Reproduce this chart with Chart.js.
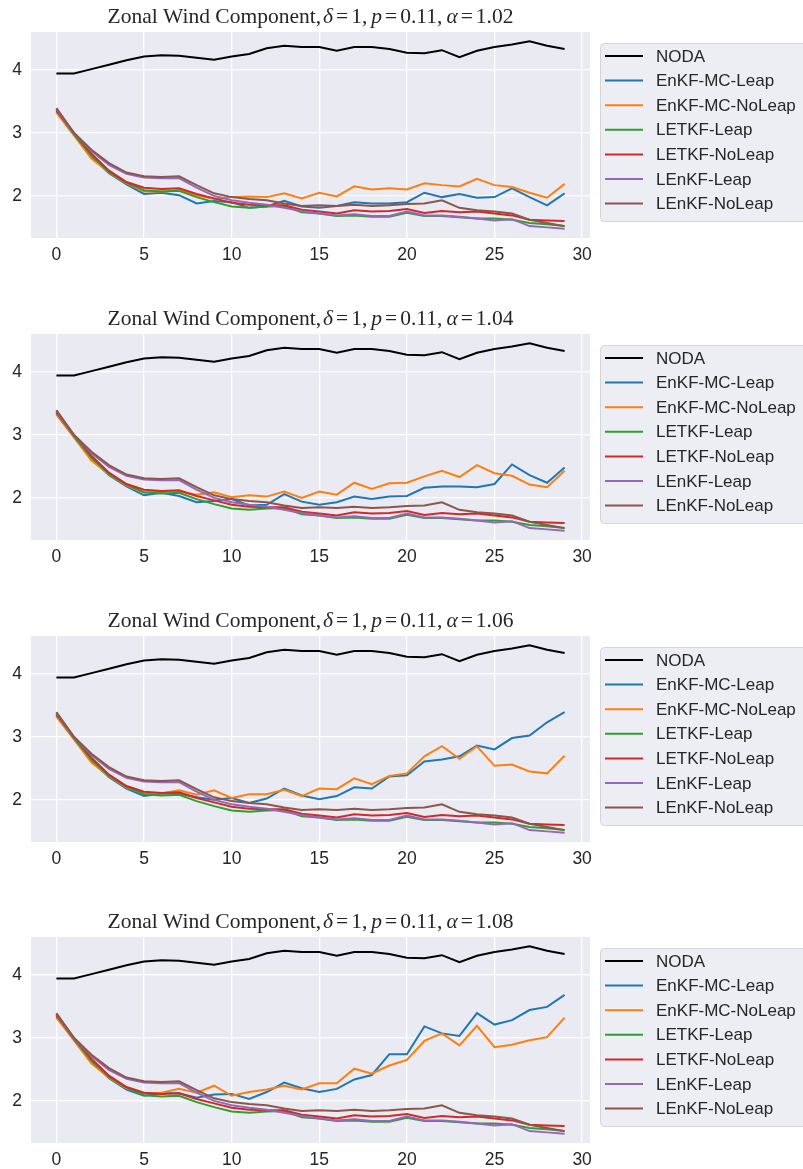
<!DOCTYPE html>
<html>
<head>
<meta charset="utf-8">
<script src="https://cdn.jsdelivr.net/npm/chart.js@4.4.0/dist/chart.umd.min.js"></script>
<style>
  html, body { margin: 0; padding: 0; background: #fff; }
  body { width: 803px; height: 1169px; overflow: hidden; position: relative; }
  .panel { position: absolute; left: 0; width: 803px; height: 302px; }
</style>
</head>
<body>
<div class="panel" style="top:0px"><canvas id="c0" width="803" height="302"></canvas></div>
<div class="panel" style="top:302px"><canvas id="c1" width="803" height="302"></canvas></div>
<div class="panel" style="top:604px"><canvas id="c2" width="803" height="302"></canvas></div>
<div class="panel" style="top:905px"><canvas id="c3" width="803" height="302"></canvas></div>
<script>
// assimilation cycles on the x axis
const steps = [0, 1, 2, 3, 4, 5, 6, 7, 8, 9, 10, 11, 12, 13, 14, 15, 16, 17, 18, 19, 20, 21, 22, 23, 24, 25, 26, 27, 28, 29];
const xTicks = [0, 5, 10, 15, 20, 25, 30];
const yTicks = [2, 3, 4];
const alphas = ['1.02', '1.04', '1.06', '1.08'];

const seriesNames = ['NODA', 'EnKF-MC-Leap', 'EnKF-MC-NoLeap', 'LETKF-Leap', 'LETKF-NoLeap', 'LEnKF-Leap', 'LEnKF-NoLeap'];
const seriesColors = ['#000000', '#1f77b4', '#ff7f0e', '#2ca02c', '#d62728', '#9467bd', '#8c564b'];

// RMSE curves that do not depend on alpha
const noda = [3.94, 3.94, 4.01, 4.08, 4.15, 4.21, 4.23, 4.22, 4.19, 4.16, 4.21, 4.25, 4.34, 4.38, 4.36, 4.36, 4.30, 4.36, 4.36, 4.33, 4.27, 4.26, 4.31, 4.20, 4.30, 4.36, 4.40, 4.45, 4.38, 4.33];
const letkfLeap = [3.36, 2.98, 2.64, 2.38, 2.21, 2.09, 2.07, 2.08, 1.98, 1.90, 1.83, 1.81, 1.83, 1.84, 1.74, 1.72, 1.68, 1.69, 1.67, 1.67, 1.73, 1.68, 1.68, 1.66, 1.64, 1.64, 1.62, 1.57, 1.55, 1.52];
const letkfNoLeap = [3.36, 3.00, 2.67, 2.40, 2.22, 2.13, 2.11, 2.12, 2.03, 1.96, 1.89, 1.86, 1.85, 1.85, 1.78, 1.75, 1.72, 1.77, 1.75, 1.76, 1.79, 1.73, 1.76, 1.74, 1.75, 1.72, 1.69, 1.62, 1.61, 1.60];
const lenkfLeap = [3.38, 2.99, 2.71, 2.49, 2.35, 2.29, 2.28, 2.28, 2.13, 2.00, 1.93, 1.89, 1.86, 1.81, 1.76, 1.72, 1.69, 1.71, 1.68, 1.68, 1.75, 1.69, 1.69, 1.67, 1.64, 1.61, 1.63, 1.52, 1.50, 1.48];
const lenkfNoLeap = [3.39, 3.00, 2.73, 2.52, 2.37, 2.31, 2.30, 2.31, 2.17, 2.04, 1.98, 1.95, 1.93, 1.88, 1.84, 1.85, 1.84, 1.86, 1.84, 1.85, 1.87, 1.88, 1.93, 1.81, 1.77, 1.75, 1.72, 1.62, 1.57, 1.52];

// EnKF-MC curves, one per inflation factor
const enkfLeap102 = [3.34, 2.98, 2.62, 2.36, 2.18, 2.03, 2.05, 2.01, 1.88, 1.92, 1.90, 1.81, 1.83, 1.92, 1.83, 1.81, 1.84, 1.90, 1.88, 1.88, 1.90, 2.05, 1.98, 2.03, 1.97, 1.98, 2.12, 1.98, 1.85, 2.04];
const enkfNoLeap102 = [3.32, 2.96, 2.59, 2.37, 2.20, 2.07, 2.07, 2.09, 2.01, 1.95, 1.98, 1.99, 1.98, 2.04, 1.96, 2.05, 1.99, 2.15, 2.10, 2.12, 2.10, 2.20, 2.17, 2.15, 2.27, 2.17, 2.14, 2.05, 1.97, 2.19];
const enkfLeap104 = [3.34, 2.98, 2.62, 2.36, 2.18, 2.04, 2.08, 2.03, 1.93, 1.95, 1.98, 1.88, 1.89, 2.06, 1.94, 1.89, 1.93, 2.02, 1.98, 2.02, 2.03, 2.16, 2.18, 2.18, 2.17, 2.22, 2.53, 2.36, 2.24, 2.48];
const enkfNoLeap104 = [3.32, 2.96, 2.59, 2.37, 2.20, 2.08, 2.10, 2.10, 2.05, 2.09, 2.01, 2.04, 2.02, 2.10, 2.00, 2.10, 2.05, 2.24, 2.14, 2.23, 2.24, 2.34, 2.43, 2.33, 2.52, 2.39, 2.35, 2.21, 2.17, 2.43];
const enkfLeap106 = [3.34, 2.98, 2.62, 2.36, 2.18, 2.06, 2.10, 2.10, 2.04, 2.00, 2.03, 1.95, 2.02, 2.18, 2.07, 2.01, 2.06, 2.20, 2.18, 2.37, 2.39, 2.61, 2.64, 2.69, 2.86, 2.80, 2.98, 3.02, 3.23, 3.39];
const enkfNoLeap106 = [3.32, 2.96, 2.59, 2.37, 2.20, 2.10, 2.10, 2.15, 2.08, 2.15, 2.03, 2.09, 2.09, 2.16, 2.06, 2.18, 2.17, 2.34, 2.25, 2.38, 2.42, 2.69, 2.85, 2.65, 2.85, 2.54, 2.56, 2.45, 2.42, 2.70];
const enkfLeap108 = [3.34, 2.98, 2.62, 2.36, 2.18, 2.08, 2.12, 2.12, 2.05, 2.10, 2.11, 2.03, 2.14, 2.29, 2.20, 2.14, 2.19, 2.34, 2.41, 2.74, 2.74, 3.18, 3.07, 3.03, 3.39, 3.21, 3.28, 3.44, 3.49, 3.68];
const enkfNoLeap108 = [3.32, 2.96, 2.59, 2.37, 2.20, 2.12, 2.13, 2.19, 2.13, 2.24, 2.08, 2.14, 2.18, 2.24, 2.18, 2.28, 2.28, 2.51, 2.43, 2.56, 2.65, 2.95, 3.07, 2.88, 3.19, 2.85, 2.89, 2.96, 3.01, 3.32];

const enkfLeapByPanel = [enkfLeap102, enkfLeap104, enkfLeap106, enkfLeap108];
const enkfNoLeapByPanel = [enkfNoLeap102, enkfNoLeap104, enkfNoLeap106, enkfNoLeap108];

const AXES_BG = '#EAEAF2';
const TEXT = '#262626';
const SANS = "'Liberation Sans', Arial, sans-serif";
const SERIF = "'Liberation Serif', 'Times New Roman', serif";

// axes face colour behind the grid
const facePlugin = {
  id: 'face',
  beforeDraw(chart) {
    const { ctx, chartArea: a } = chart;
    ctx.save();
    ctx.fillStyle = AXES_BG;
    ctx.fillRect(a.left, a.top, a.right - a.left, a.bottom - a.top);
    ctx.restore();
  }
};

// title with italic math symbols
const titlePlugin = {
  id: 'mathTitle',
  afterDraw(chart, args, opts) {
    const { ctx, chartArea: a } = chart;
    const parts = [
      ['Zonal Wind Component,', false, 2],
      ['δ', true, 3], ['=', false, 3], ['1,', false, 4],
      ['p', true, 3], ['=', false, 3], ['0.11,', false, 4],
      ['α', true, 3], ['=', false, 3], [opts.alpha, false, 0]
    ];
    const size = 21.5;
    const fontFor = it => (it ? 'italic ' : '') + size + 'px ' + SERIF;
    ctx.save();
    let total = 0;
    parts.forEach(p => { ctx.font = fontFor(p[1]); total += ctx.measureText(p[0]).width + p[2]; });
    let x = (a.left + a.right) / 2 - total / 2;
    ctx.fillStyle = TEXT;
    ctx.textBaseline = 'alphabetic';
    ctx.textAlign = 'left';
    parts.forEach(p => {
      ctx.font = fontFor(p[1]);
      ctx.fillText(p[0], x, 23);
      x += ctx.measureText(p[0]).width + p[2];
    });
    ctx.restore();
  }
};

// framed legend to the right of the axes
const legendPlugin = {
  id: 'sideLegend',
  afterDraw(chart) {
    const { ctx } = chart;
    const x0 = 600, y0 = 43, w = 230, h = 178, r = 4;
    ctx.save();
    ctx.beginPath();
    ctx.roundRect(x0 + 0.5, y0 + 0.5, w, h, r);
    ctx.fillStyle = '#EDEDF4';
    ctx.fill();
    ctx.strokeStyle = '#D4D4DA';
    ctx.lineWidth = 1;
    ctx.stroke();
    ctx.font = '17px ' + SANS;
    ctx.textBaseline = 'middle';
    chart.data.datasets.forEach((ds, i) => {
      const y = 56 + i * 24.6;
      ctx.beginPath();
      ctx.moveTo(605, y);
      ctx.lineTo(643, y);
      ctx.strokeStyle = ds.borderColor;
      ctx.lineWidth = 2;
      ctx.stroke();
      ctx.fillStyle = TEXT;
      ctx.fillText(ds.label, 656, y + 1);
    });
    ctx.restore();
  }
};

function makePanel(k) {
  const curves = [noda, enkfLeapByPanel[k], enkfNoLeapByPanel[k], letkfLeap, letkfNoLeap, lenkfLeap, lenkfNoLeap];
  const all = curves.flat();
  const yMin = Math.min(...all), yMax = Math.max(...all);
  const yPad = 0.05 * (yMax - yMin);
  const xPad = 0.05 * (steps[steps.length - 1] - steps[0]);

  const datasets = curves.map((vals, i) => ({
    label: seriesNames[i],
    data: vals.map((v, j) => ({ x: steps[j], y: v })),
    borderColor: seriesColors[i],
    borderWidth: 2,
    pointRadius: 0,
    tension: 0,
    fill: false,
    order: curves.length - i
  }));

  const tickFont = { family: SANS, size: 17.5 };

  new Chart(document.getElementById('c' + k), {
    type: 'line',
    data: { datasets },
    options: {
      responsive: false,
      animation: false,
      events: [],
      layout: { padding: { top: 32, bottom: 34, left: 0, right: 213 } },
      plugins: {
        legend: { display: false },
        tooltip: { enabled: false },
        mathTitle: { alpha: alphas[k] }
      },
      scales: {
        x: {
          type: 'linear',
          min: steps[0] - xPad,
          max: steps[steps.length - 1] + xPad,
          afterBuildTicks: s => { s.ticks = xTicks.map(v => ({ value: v })); },
          afterFit: s => { s.height = 30; },
          grid: { color: '#ffffff', lineWidth: 1.3, drawTicks: false },
          border: { display: false },
          ticks: { font: tickFont, color: TEXT, padding: 7, maxRotation: 0, autoSkip: false }
        },
        y: {
          type: 'linear',
          min: yMin - yPad,
          max: yMax + yPad,
          afterBuildTicks: s => { s.ticks = yTicks.map(v => ({ value: v })); },
          afterFit: s => { s.width = 31; },
          grid: { color: '#ffffff', lineWidth: 1.3, drawTicks: false },
          border: { display: false },
          ticks: { font: tickFont, color: TEXT, padding: 9 }
        }
      }
    },
    plugins: [facePlugin, titlePlugin, legendPlugin]
  });
}

alphas.forEach((a, k) => makePanel(k));
</script>
</body>
</html>
